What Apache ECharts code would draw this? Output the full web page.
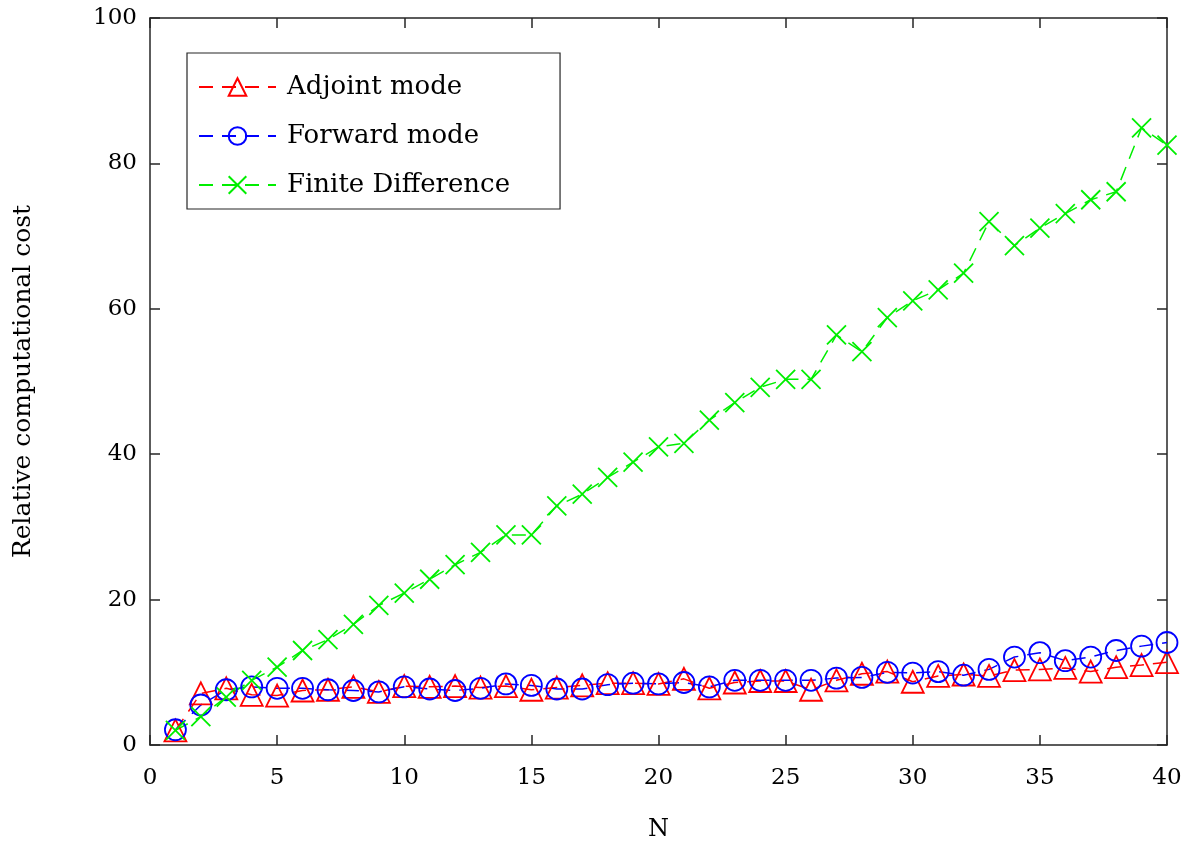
<!DOCTYPE html>
<html>
<head>
<meta charset="utf-8">
<script src="https://cdn.jsdelivr.net/npm/echarts@6/dist/echarts.min.js"></script>
<style>
html,body{margin:0;padding:0;background:#fff;}
#chart{width:1187px;height:848px;}
</style>
</head>
<body>
<div id="chart"></div>
<script>
// ---- data ----
const N = [1,2,3,4,5,6,7,8,9,10,11,12,13,14,15,16,17,18,19,20,21,22,23,24,25,26,27,28,29,30,31,32,33,34,35,36,37,38,39,40];
const adjointMode = [2.0,7.1,7.8,6.9,6.8,7.5,7.6,8.0,7.3,8.1,8.0,8.1,7.9,8.1,7.6,7.9,8.2,8.5,8.5,8.4,9.1,7.8,8.6,8.8,8.8,7.6,8.9,9.8,10.1,8.7,9.5,9.7,9.5,10.3,10.4,10.6,10.1,10.7,11.0,11.4];
const forwardMode = [2.1,5.5,7.6,8.0,7.8,7.8,7.6,7.5,7.3,8.0,7.7,7.5,7.8,8.4,8.2,7.7,7.7,8.3,8.5,8.4,8.6,8.0,8.9,8.9,8.9,8.9,9.2,9.3,10.0,9.9,10.1,9.6,10.4,12.1,12.7,11.6,12.1,13.0,13.6,14.1];
const finiteDifference = [2.0,3.9,6.6,8.9,10.7,13.0,14.5,16.6,19.2,20.9,22.8,24.8,26.5,28.9,28.9,32.9,34.5,36.8,38.9,41.0,41.5,44.7,47.1,49.2,50.3,50.3,56.4,54.1,58.8,61.1,62.6,64.9,72.0,68.7,71.1,73.1,75.0,76.1,84.9,82.5];
const seriesNames = ['Adjoint mode','Forward mode','Finite Difference'];
const xTicks = {min:0, max:40, interval:5};
const yTicks = {min:0, max:100, interval:20};

const FONT = '"DejaVu Serif", "Liberation Serif", serif';
const AX = '#262626';
const pairs = arr => N.map((n,i)=>[n, arr[i]]);

function mk(name, data, color, symbol, size){
  return {
    name, type:'line', data: pairs(data),
    symbol, symbolSize:size, showSymbol:true,
    lineStyle:{color, width:1.5, type:[14,9]},
    itemStyle:{color:'rgba(0,0,0,0)', borderColor:color, borderWidth:1.8},
    emphasis:{disabled:true}, animation:false
  };
}
const chart = echarts.init(document.getElementById('chart'));
const axisCommon = {
  axisLine:{show:true, onZero:false, lineStyle:{color:AX, width:1.5}},
  axisTick:{show:true, inside:true, length:10, lineStyle:{color:AX, width:1.5}},
  splitLine:{show:false}
};
chart.setOption({
  backgroundColor:'#fff',
  animation:false,
  grid:{left:150, top:18, right:20, bottom:103, containLabel:false},
  legend:{
    orient:'vertical', left:187, top:53,
    data: seriesNames,
    itemWidth:77, itemHeight:22, itemGap:23,
    padding:[21, 50, 11, 11],
    borderColor:AX, borderWidth:1.2, backgroundColor:'#fff',
    textStyle:{fontFamily:FONT, fontSize:26, color:'#000', padding:[0,0,0,6]},
    selectedMode:false
  },
  xAxis:[
    Object.assign({type:'value', position:'bottom', min:xTicks.min, max:xTicks.max, interval:xTicks.interval,
      name:'N', nameLocation:'middle', nameGap:73,
      nameTextStyle:{fontFamily:FONT, fontSize:24, color:'#000'},
      axisLabel:{fontFamily:FONT, fontSize:23, color:'#000', margin:22}}, axisCommon),
    Object.assign({type:'value', position:'top', min:xTicks.min, max:xTicks.max, interval:xTicks.interval,
      axisLabel:{show:false}}, axisCommon)
  ],
  yAxis:[
    Object.assign({type:'value', position:'left', min:yTicks.min, max:yTicks.max, interval:yTicks.interval,
      name:'Relative computational cost', nameLocation:'middle', nameGap:114,
      nameTextStyle:{fontFamily:FONT, fontSize:25, color:'#000'},
      axisLabel:{fontFamily:FONT, fontSize:23, color:'#000', margin:13}}, axisCommon),
    Object.assign({type:'value', position:'right', min:yTicks.min, max:yTicks.max, interval:yTicks.interval,
      axisLabel:{show:false}}, axisCommon)
  ],
  series:[
    mk(seriesNames[0], adjointMode, '#ff0000', 'triangle', 22),
    mk(seriesNames[1], forwardMode, '#0000ff', 'circle', 21),
    mk(seriesNames[2], finiteDifference, '#00ee00', 'path://M0,0L10,10M10,0L0,10', 19)
  ]
});
</script>
</body>
</html>
